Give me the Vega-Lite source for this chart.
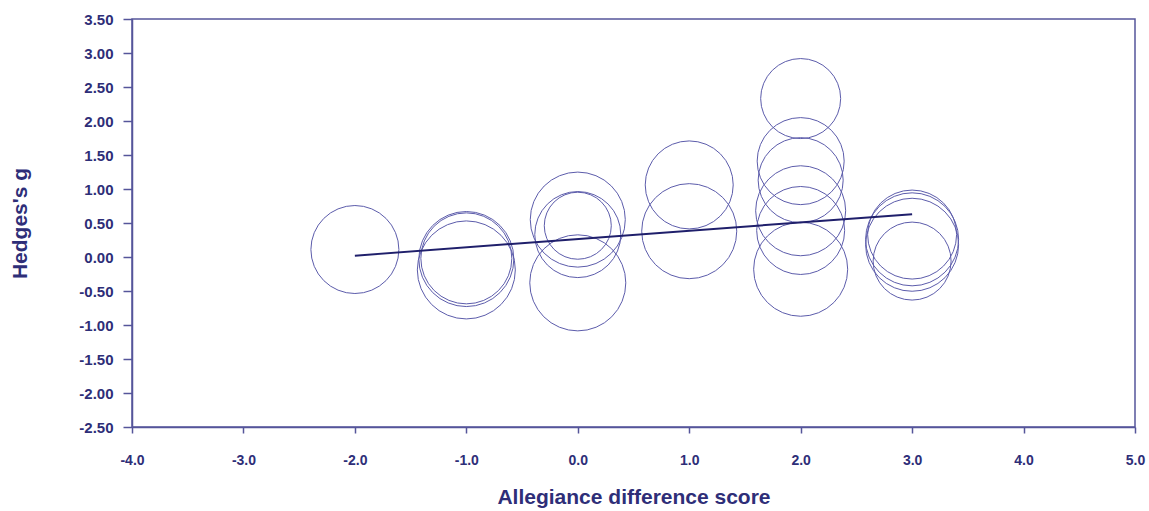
{
  "$schema": "https://vega.github.io/schema/vega-lite/v6.json",
  "width": 1003,
  "height": 408,
  "autosize": {"type": "none"},
  "padding": {"left": 132, "top": 19, "right": 14, "bottom": 84},
  "background": "white",
  "config": {
    "view": {"stroke": "#55559a", "strokeWidth": 1.5},
    "axis": {
      "domainColor": "#55559a",
      "domainWidth": 1.5,
      "tickColor": "#55559a",
      "tickWidth": 1.5,
      "grid": false,
      "labelOverlap": false,
      "labelFlush": false,
      "labelBound": false,
      "labelFont": "Liberation Sans",
      "labelFontWeight": "bold",
      "labelFontSize": 14,
      "labelColor": "#2e2e78",
      "titleFont": "Liberation Sans",
      "titleFontWeight": "bold",
      "titleFontSize": 21,
      "titleColor": "#2e2e78"
    }
  },
  "datasets": {
    "studies": [
      {"allegiance": -2, "g": 0.11, "weight": 77.4},
      {"allegiance": -1, "g": -0.03, "weight": 90.3},
      {"allegiance": -1, "g": -0.02, "weight": 82.8},
      {"allegiance": -1, "g": -0.19, "weight": 96.0},
      {"allegiance": 0, "g": 0.55, "weight": 90.3},
      {"allegiance": 0, "g": 0.33, "weight": 74.0},
      {"allegiance": 0, "g": 0.46, "weight": 44.9},
      {"allegiance": 0, "g": -0.38, "weight": 92.2},
      {"allegiance": 1, "g": 1.06, "weight": 77.4},
      {"allegiance": 1, "g": 0.38, "weight": 90.3},
      {"allegiance": 2, "g": 2.33, "weight": 64.0},
      {"allegiance": 2, "g": 1.41, "weight": 75.7},
      {"allegiance": 2, "g": 1.13, "weight": 72.3},
      {"allegiance": 2, "g": 0.68, "weight": 81.0},
      {"allegiance": 2, "g": 0.39, "weight": 77.4},
      {"allegiance": 2, "g": -0.18, "weight": 88.4},
      {"allegiance": 3, "g": 0.33, "weight": 79.2},
      {"allegiance": 3, "g": 0.26, "weight": 86.5},
      {"allegiance": 3, "g": 0.18, "weight": 86.5},
      {"allegiance": 3, "g": -0.06, "weight": 60.8}
    ],
    "fit": [
      {"allegiance": -2, "g": 0.02},
      {"allegiance": 3, "g": 0.63}
    ]
  },
  "encoding": {
    "x": {
      "field": "allegiance", "type": "quantitative",
      "scale": {"domain": [-4, 5], "nice": false, "zero": false},
      "axis": {"values": [-4, -3, -2, -1, 0, 1, 2, 3, 4, 5], "tickCount": 30, "format": ".1f", "labelExpr": "replace(datum.label, '\u2212', '-')", "tickSize": 6, "labelPadding": 20, "titlePadding": 19, "title": "Allegiance difference score"}
    },
    "y": {
      "field": "g", "type": "quantitative",
      "scale": {"domain": [-2.5, 3.5], "nice": false, "zero": false},
      "axis": {"values": [-2.5, -2, -1.5, -1, -0.5, 0, 0.5, 1, 1.5, 2, 2.5, 3, 3.5], "tickCount": 30, "format": ".2f", "labelExpr": "replace(datum.label, '\u2212', '-')", "labelFontSize": 15, "tickSize": 9, "labelPadding": 10, "titlePadding": 48, "title": "Hedges's g"}
    }
  },
  "layer": [
    {
      "data": {"name": "studies"},
      "mark": {"type": "point", "shape": "circle", "filled": false, "stroke": "#5c5cab", "strokeWidth": 1, "opacity": 1},
      "encoding": {
        "size": {"field": "weight", "type": "quantitative", "scale": {"domain": [0, 100], "range": [0, 10000], "zero": true}, "legend": null}
      }
    },
    {
      "data": {"name": "fit"},
      "mark": {"type": "line", "color": "#1f1f6b", "strokeWidth": 2},
      "encoding": {}
    }
  ]
}
